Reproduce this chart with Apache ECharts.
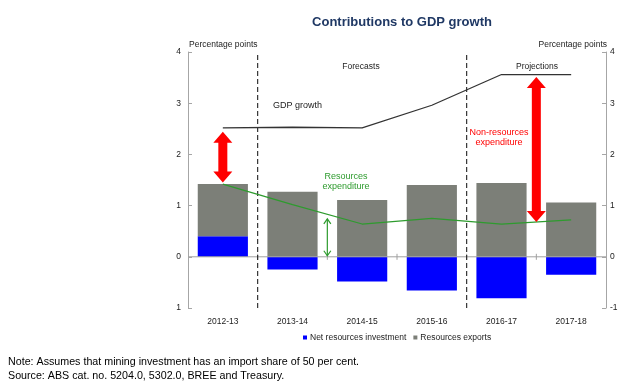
<!DOCTYPE html>
<html><head><meta charset="utf-8">
<script src="https://cdn.jsdelivr.net/npm/echarts@6/dist/echarts.min.js"></script>
<style>html,body{margin:0;padding:0;background:#fff}#c{width:633px;height:386px}</style>
</head><body><div id="c"></div>
<script>
// ---- data ----
const categories = ['2012-13', '2013-14', '2014-15', '2015-16', '2016-17', '2017-18'];
const netResourcesInvestment = [0.40, -0.25, -0.48, -0.66, -0.81, -0.35];
const resourcesExports = [1.02, 1.27, 1.11, 1.40, 1.44, 1.06];
const gdpGrowth = [2.52, 2.53, 2.52, 2.96, 3.56, 3.56];
const resourcesExpenditure = [1.42, 1.02, 0.64, 0.75, 0.64, 0.72];
const yMin = -1, yMax = 4, yStep = 1;
// arrows: [position in category units, from, to]
const redArrows = [[0.5, 1.45, 2.44], [5, 0.68, 3.51]];
const greenArrows = [[2, 0.02, 0.74]];
const dividers = [1, 4];
const zeroTicks = [1, 2, 3, 4, 5];

const FONT = '"Liberation Sans", Arial, sans-serif';
const chart = echarts.init(document.getElementById('c'), null, {renderer: 'canvas'});

function renderRed(params, api) {
  const x = api.value(0);
  const a = api.coord([x, api.value(1)]);
  const b = api.coord([x, api.value(2)]);
  const cx = a[0], yb = a[1], yt = b[1];
  const sw = 4.5, hw = 9.5, hl = 11;
  return {
    type: 'polygon',
    shape: {points: [[cx, yt], [cx + hw, yt + hl], [cx + sw, yt + hl], [cx + sw, yb - hl], [cx + hw, yb - hl],
      [cx, yb], [cx - hw, yb - hl], [cx - sw, yb - hl], [cx - sw, yt + hl], [cx - hw, yt + hl]]},
    style: {fill: '#FF0000'}
  };
}
function renderGreen(params, api) {
  const x = api.value(0);
  const a = api.coord([x, api.value(1)]);
  const b = api.coord([x, api.value(2)]);
  const cx = a[0], yb = a[1], yt = b[1];
  const st = {stroke: '#2E9B2E', lineWidth: 1.2, fill: null};
  return {type: 'group', children: [
    {type: 'line', shape: {x1: cx, y1: yt, x2: cx, y2: yb}, style: st},
    {type: 'polyline', shape: {points: [[cx - 3.5, yt + 5], [cx, yt], [cx + 3.5, yt + 5]]}, style: st},
    {type: 'polyline', shape: {points: [[cx - 3.5, yb - 5], [cx, yb], [cx + 3.5, yb - 5]]}, style: st}
  ]};
}
function renderDivider(params, api) {
  const x = api.value(0);
  const a = api.coord([x, yMin]);
  const b = api.coord([x, yMax]);
  return {type: 'line', shape: {x1: a[0], y1: a[1], x2: b[0], y2: b[1]},
    style: {stroke: '#222', lineWidth: 1.1, lineDash: [5, 3]}};
}
function renderZeroAxis(params, api) {
  const a = api.coord([0, 0]);
  const b = api.coord([6, 0]);
  const children = [{type: 'line', shape: {x1: a[0], y1: a[1], x2: b[0], y2: b[1]}, style: {stroke: '#A0A0A0', lineWidth: 1}}];
  zeroTicks.forEach(t => {
    const p = api.coord([t, 0]);
    children.push({type: 'line', shape: {x1: p[0], y1: p[1] - 3, x2: p[0], y2: p[1] + 3}, style: {stroke: '#A0A0A0', lineWidth: 1}});
  });
  return {type: 'group', children};
}

const txt = (x, y, text, opts) => Object.assign({
  type: 'text', x, y,
  style: Object.assign({text, font: '8.5px ' + FONT, fill: '#222', textVerticalAlign: 'middle'}, opts || {})
});

const yAxisCommon = {
  type: 'value', min: yMin, max: yMax, interval: yStep,
  splitLine: {show: false},
  axisLine: {show: true, lineStyle: {color: '#A6A6A6'}},
  axisTick: {show: true, inside: true, length: 4, lineStyle: {color: '#A6A6A6'}},
};

chart.setOption({
  animation: false,
  backgroundColor: '#fff',
  title: {text: 'Contributions to GDP growth', left: 397, top: 11, textAlign: 'center',
    textStyle: {fontFamily: FONT, fontSize: 13, fontWeight: 'bold', color: '#1F3864'}},
  grid: {left: 188, right: 27, top: 52, bottom: 78},
  legend: {
    data: ['Net resources investment', 'Resources exports'],
    left: 298, top: 328, itemWidth: 4, itemHeight: 4, itemGap: 7, icon: 'rect',
    textStyle: {fontFamily: FONT, fontSize: 8.5, color: '#222', padding: [0, 0, 0, -2]}
  },
  xAxis: [
    {type: 'category', data: categories, position: 'bottom',
      axisLine: {show: false}, axisTick: {show: false},
      axisLabel: {fontFamily: FONT, fontSize: 8.5, color: '#222', margin: 9}},
    {type: 'value', min: 0, max: 6, show: false}
  ],
  yAxis: [
    Object.assign({}, yAxisCommon, {position: 'left',
      axisLabel: {fontFamily: FONT, fontSize: 8.5, color: '#222', margin: 7, formatter: v => String(Math.abs(v))}}),
    Object.assign({}, yAxisCommon, {position: 'right',
      axisLabel: {fontFamily: FONT, fontSize: 8.5, color: '#222', margin: 4}})
  ],
  series: [
    {name: 'Net resources investment', type: 'bar', stack: 'c', data: netResourcesInvestment,
      barWidth: '72%', itemStyle: {color: '#0000FF'}, z: 2},
    {name: 'Resources exports', type: 'bar', stack: 'c', data: resourcesExports,
      barWidth: '72%', itemStyle: {color: '#7C7F78'}, z: 2},
    {type: 'custom', xAxisIndex: 1, yAxisIndex: 0, data: [[0, 6]], renderItem: renderZeroAxis, z: 3, silent: true},
    {type: 'custom', xAxisIndex: 1, yAxisIndex: 0, data: dividers.map(d => [d]), renderItem: renderDivider, z: 3, silent: true},
    {name: 'GDP growth', type: 'line', data: gdpGrowth, symbol: 'none',
      lineStyle: {color: '#333', width: 1.3}, z: 4},
    {name: 'Resources expenditure', type: 'line', data: resourcesExpenditure, symbol: 'none',
      lineStyle: {color: '#2E9B2E', width: 1.2}, z: 4},
    {type: 'custom', xAxisIndex: 1, yAxisIndex: 0, data: redArrows, renderItem: renderRed, z: 5, silent: true},
    {type: 'custom', xAxisIndex: 1, yAxisIndex: 0, data: greenArrows, renderItem: renderGreen, z: 5, silent: true}
  ],
  graphic: [
    txt(189, 45, 'Percentage points'),
    txt(607, 45, 'Percentage points', {textAlign: 'right'}),
    txt(361, 67, 'Forecasts', {textAlign: 'center'}),
    txt(537, 67, 'Projections', {textAlign: 'center'}),
    txt(273, 106, 'GDP growth', {font: '9px ' + FONT}),
    txt(499, 133, 'Non-resources', {textAlign: 'center', fill: '#FF0000', font: '9px ' + FONT}),
    txt(499, 143, 'expenditure', {textAlign: 'center', fill: '#FF0000', font: '9px ' + FONT}),
    txt(346, 177, 'Resources', {textAlign: 'center', fill: '#2E9B2E', font: '9px ' + FONT}),
    txt(346, 187, 'expenditure', {textAlign: 'center', fill: '#2E9B2E', font: '9px ' + FONT}),
    txt(8, 362, 'Note: Assumes that mining investment has an import share of 50 per cent.', {font: '10.7px ' + FONT, fill: '#000'}),
    txt(8, 376, 'Source: ABS cat. no. 5204.0, 5302.0, BREE and Treasury.', {font: '10.7px ' + FONT, fill: '#000'})
  ]
});
</script></body></html>
